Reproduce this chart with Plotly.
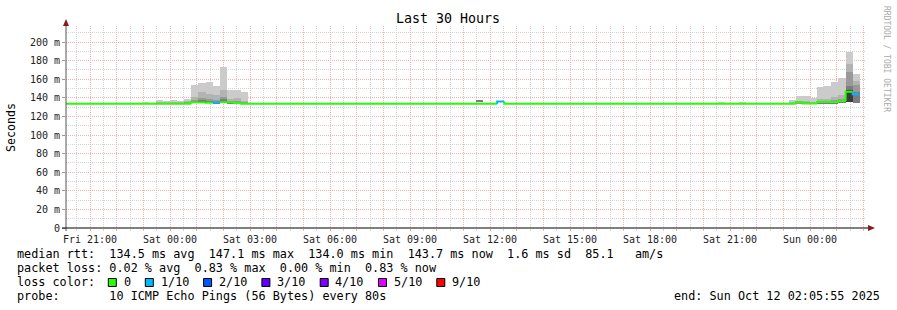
import pandas as pd
import plotly.graph_objects as go

# ---------------- data ----------------
START = "2025-10-10 20:05:55"
END = "2025-10-12 02:05:55"
LAST_BIN_END = "2025-10-12 01:52:00"
BIN_MIN = 16  # consolidation step (minutes)

# smoke bins: bin start, lowest ping, then layer tops (lightest/outer -> darkest/inner), ms
smoke_bins = [
    "2025-10-10 22:56", "2025-10-10 23:28", "2025-10-10 23:44", "2025-10-11 00:00",
    "2025-10-11 00:16", "2025-10-11 00:32", "2025-10-11 00:48", "2025-10-11 01:04",
    "2025-10-11 01:20", "2025-10-11 01:36", "2025-10-11 01:52", "2025-10-11 02:08",
    "2025-10-11 02:24", "2025-10-11 02:40", "2025-10-11 11:28", "2025-10-11 20:32",
    "2025-10-11 21:20", "2025-10-11 23:12", "2025-10-11 23:28", "2025-10-11 23:44",
    "2025-10-12 00:00", "2025-10-12 00:16", "2025-10-12 00:32", "2025-10-12 00:48",
    "2025-10-12 01:04", "2025-10-12 01:20", "2025-10-12 01:36",
]
smoke_lo = [134, 134, 134, 134, 134, 134, 134, 134, 134, 134, 134, 134, 134, 134,
            135.5, 134, 134, 134, 134, 134, 134, 134, 134, 134, 134, 136, 134]
smoke_l1 = [135.8, 137.6, 136.9, 137.6, 136.6, 139.0, 154.0, 156.0, 157.0, 152.7, 173.5, 148.4,
            148.4, 146.0, 137.6, 135.8, 135.8, 137.6, 142.0, 142.0, 139.5, 152.0, 153.0, 157.3,
            161.0, 189.6, 165.6]
smoke_l2 = [134, 135.0, 135.0, 135.5, 135.0, 136.5, 141.0, 146.0, 144.0, 143.0, 148.4, 139.0,
            139.5, 137.0, 137.6, 134, 134, 135.0, 137.0, 136.5, 135.5, 139.0, 139.0, 141.0,
            143.0, 176.0, 158.0]
smoke_l3 = [134, 134, 134, 134, 134, 135.0, 138.0, 140.0, 139.0, 138.0, 141.0, 137.0,
            136.5, 135.0, 137.6, 134, 134, 134, 135.0, 135.0, 134, 137.0, 137.0, 138.0,
            139.0, 168.0, 153.8]
smoke_l4 = [134, 134, 134, 134, 134, 134, 136.5, 137.5, 137.0, 136.0, 138.5, 135.5,
            135.0, 134, 137.6, 134, 134, 134, 134, 134, 134, 135.5, 135.5, 136.0,
            136.5, 152.7, 146.0]
smoke_l5 = [134, 134, 134, 134, 134, 134, 134, 136.8, 134, 134, 134, 134,
            134, 134, 135.5, 134, 134, 134, 134, 134, 134, 134, 134, 134,
            134, 148.0, 134]

# median rtt as step series: change time, value (ms), loss (pings lost of 10)
rtt_times = [
    "2025-10-10 20:05:55", "2025-10-11 00:48:00", "2025-10-11 01:20:00", "2025-10-11 01:36:00",
    "2025-10-11 01:52:00", "2025-10-11 02:24:00", "2025-10-11 02:40:00", "2025-10-11 12:16:00",
    "2025-10-11 12:32:00", "2025-10-11 23:28:00", "2025-10-11 23:44:00", "2025-10-12 00:16:00",
    "2025-10-12 01:04:00", "2025-10-12 01:20:00", "2025-10-12 01:36:00",
]
rtt_values = [133.5, 135.3, 134.6, 135.3, 135.3, 134.3, 133.5, 136.0,
              133.5, 135.5, 134.0, 135.5, 136.5, 146.6, 143.7]
rtt_loss = [0, 0, 0, 1, 0, 0, 0, 1, 0, 0, 0, 0, 0, 0, 1]

y_tick_vals = [0, 20, 40, 60, 80, 100, 120, 140, 160, 180, 200]
y_tick_text = ["0", "20 m", "40 m", "60 m", "80 m", "100 m", "120 m", "140 m",
               "160 m", "180 m", "200 m"]

loss_labels = ["0", "1/10", "2/10", "3/10", "4/10", "5/10", "9/10"]
loss_colors = ["#26ff00", "#00b8ff", "#0059ff", "#5e00ff", "#7e00ff", "#dd00ff", "#ff0000"]

legend_rtt = "median rtt:  134.5 ms avg  147.1 ms max  134.0 ms min  143.7 ms now  1.6 ms sd  85.1   am/s"
legend_loss = "packet loss: 0.02 % avg  0.83 % max  0.00 % min  0.83 % now"
legend_probe = "probe:       10 ICMP Echo Pings (56 Bytes) every 80s"
legend_end = "end: Sun Oct 12 02:05:55 2025"
title_text = "Last 30 Hours"
ylabel_text = "Seconds"
credit_text = "RRDTOOL / TOBI OETIKER"

# ---------------- geometry ----------------
W, H = 897, 310
PL, PR, PT, PB = 66, 866, 26, 228   # plot area pixels
Y_MAX = 217.2
FONT = "DejaVu Sans Mono"
CW = 7.1  # char width of legend font


def px(xp):
    return (xp - PL) / (PR - PL)


def py(yp):
    return (PB - yp) / (PB - PT)


fig = go.Figure()

# smoke layers
bin_centers = pd.to_datetime(smoke_bins, format="%Y-%m-%d %H:%M") + pd.Timedelta(minutes=BIN_MIN / 2)
layer_colors = ["#cbcbcb", "#b3b3b3", "#999999", "#7c7c7c", "#3c3c3c"]
for tops, col in zip([smoke_l1, smoke_l2, smoke_l3, smoke_l4, smoke_l5], layer_colors):
    fig.add_trace(go.Bar(
        x=bin_centers, y=[t - b for t, b in zip(tops, smoke_lo)], base=smoke_lo,
        width=BIN_MIN * 60 * 1000, marker=dict(color=col, line=dict(width=0)),
        hoverinfo="skip", showlegend=False,
    ))

# median line, coloured by loss
t_all = list(pd.to_datetime(rtt_times, format="%Y-%m-%d %H:%M:%S")) + [pd.Timestamp(LAST_BIN_END)]
for li, col in enumerate(loss_colors):
    xs, ys = [], []
    for i in range(len(rtt_values)):
        if rtt_loss[i] != li:
            continue
        if i > 0:
            xs += [t_all[i], t_all[i]]
            ys += [rtt_values[i - 1], rtt_values[i]]
        xs += [t_all[i], t_all[i + 1], None]
        ys += [rtt_values[i], rtt_values[i], None]
    if xs:
        fig.add_trace(go.Scatter(x=xs, y=ys, mode="lines", line=dict(color=col, width=2),
                                 hoverinfo="skip", showlegend=False))

# x ticks: every hour, labels every 3 hours
hours = pd.date_range("2025-10-10 21:00", "2025-10-12 02:00", freq="1h")
x_tick_text = [h.strftime("%a %H:%M") if h.hour % 3 == 0 else "" for h in hours]

MGRID = "#f6b0b0"
GRID = "#d4d4d4"

fig.update_layout(
    width=W, height=H,
    margin=dict(l=PL, r=W - PR, t=PT, b=H - PB, autoexpand=False),
    paper_bgcolor="white", plot_bgcolor="white",
    barmode="overlay", bargap=0,
    showlegend=False,
    font=dict(family=FONT, color="#000000"),
    xaxis=dict(
        type="date", range=[START, END],
        tickmode="array", tickvals=list(hours), ticktext=x_tick_text,
        tickfont=dict(family=FONT, size=10, color="#222222"),
        ticks="outside", ticklen=2, tickcolor=MGRID,
        showgrid=True, gridcolor=MGRID, griddash="1px,1px", gridwidth=1,
        minor=dict(tickmode="linear", tick0="2025-10-10 00:00", dtick=30 * 60 * 1000,
                   showgrid=True, gridcolor=GRID, griddash="1px,1px", gridwidth=1,
                   ticks="outside", ticklen=2, tickcolor=GRID),
        showline=False, zeroline=False, fixedrange=True,
    ),
    yaxis=dict(
        range=[0, Y_MAX],
        tickmode="array", tickvals=y_tick_vals, ticktext=y_tick_text,
        tickfont=dict(family=FONT, size=10, color="#222222"),
        ticks="outside", ticklen=3, tickcolor="#999999",
        showgrid=True, gridcolor=MGRID, griddash="1px,1px", gridwidth=1,
        minor=dict(tickmode="linear", tick0=0, dtick=10, showgrid=True, gridcolor=GRID,
                   griddash="1px,1px", gridwidth=1, ticks=""),
        showline=False, zeroline=False, fixedrange=True,
    ),
)

shapes = []
# axes lines + arrows
shapes.append(dict(type="line", xref="paper", yref="paper", x0=px(PL), x1=px(PL),
                   y0=py(PB + 3), y1=py(22), line=dict(color="#555555", width=1)))
shapes.append(dict(type="line", xref="paper", yref="paper", x0=px(PL - 4), x1=px(870),
                   y0=0, y1=0, line=dict(color="#000000", width=1)))
ARROW = "#8b1a1a"
shapes.append(dict(type="path", xref="paper", yref="paper",
                   path=f"M {px(PL-3)} {py(26)} L {px(PL+3)} {py(26)} L {px(PL)} {py(19)} Z",
                   fillcolor=ARROW, line=dict(color=ARROW, width=0)))
shapes.append(dict(type="path", xref="paper", yref="paper",
                   path=f"M {px(868)} {py(PB-3)} L {px(868)} {py(PB+3)} L {px(875)} {py(PB)} Z",
                   fillcolor=ARROW, line=dict(color=ARROW, width=0)))

annotations = []
annotations.append(dict(text=title_text, x=px(448), y=py(19), xref="paper", yref="paper",
                        showarrow=False, xanchor="center", yanchor="middle",
                        font=dict(family=FONT, size=13.3, color="#000000")))
annotations.append(dict(text=ylabel_text, x=px(11), y=py(127), xref="paper", yref="paper",
                        showarrow=False, xanchor="center", yanchor="middle", textangle=-90,
                        font=dict(family=FONT, size=11.6, color="#000000")))
annotations.append(dict(text=credit_text, x=px(887), y=py(59), xref="paper", yref="paper",
                        showarrow=False, xanchor="center", yanchor="middle", textangle=90,
                        font=dict(family=FONT, size=8, color="#aaaaaa")))

LEG_X = 16
LEG_FS = 11.8
for txt, yl in [(legend_rtt, 254.3), (legend_loss, 268.3), ("loss color:", 282.3),
                (legend_probe, 296.3)]:
    annotations.append(dict(text=txt.replace(" ", "&nbsp;"), x=px(LEG_X - 1), y=py(yl),
                            xref="paper", yref="paper", showarrow=False,
                            xanchor="left", yanchor="middle",
                            font=dict(family=FONT, size=LEG_FS, color="#000000")))
annotations.append(dict(text=legend_end, x=px(882), y=py(296.3), xref="paper", yref="paper",
                        showarrow=False, xanchor="right", yanchor="middle",
                        font=dict(family=FONT, size=LEG_FS, color="#000000")))

# loss colour legend swatches
sx = LEG_X + 13 * CW
for lab, col in zip(loss_labels, loss_colors):
    shapes.append(dict(type="rect", xref="paper", yref="paper",
                       x0=px(sx), x1=px(sx + 8), y0=py(286.5), y1=py(278.5),
                       fillcolor=col, line=dict(color="#000000", width=1)))
    annotations.append(dict(text=lab, x=px(sx + 2 * CW - 1), y=py(282.3), xref="paper",
                            yref="paper", showarrow=False, xanchor="left", yanchor="middle",
                            font=dict(family=FONT, size=LEG_FS, color="#000000")))
    sx += (len(lab) + 4) * CW + 1.5

fig.update_layout(shapes=shapes, annotations=annotations)
fig.write_html("out.html")
